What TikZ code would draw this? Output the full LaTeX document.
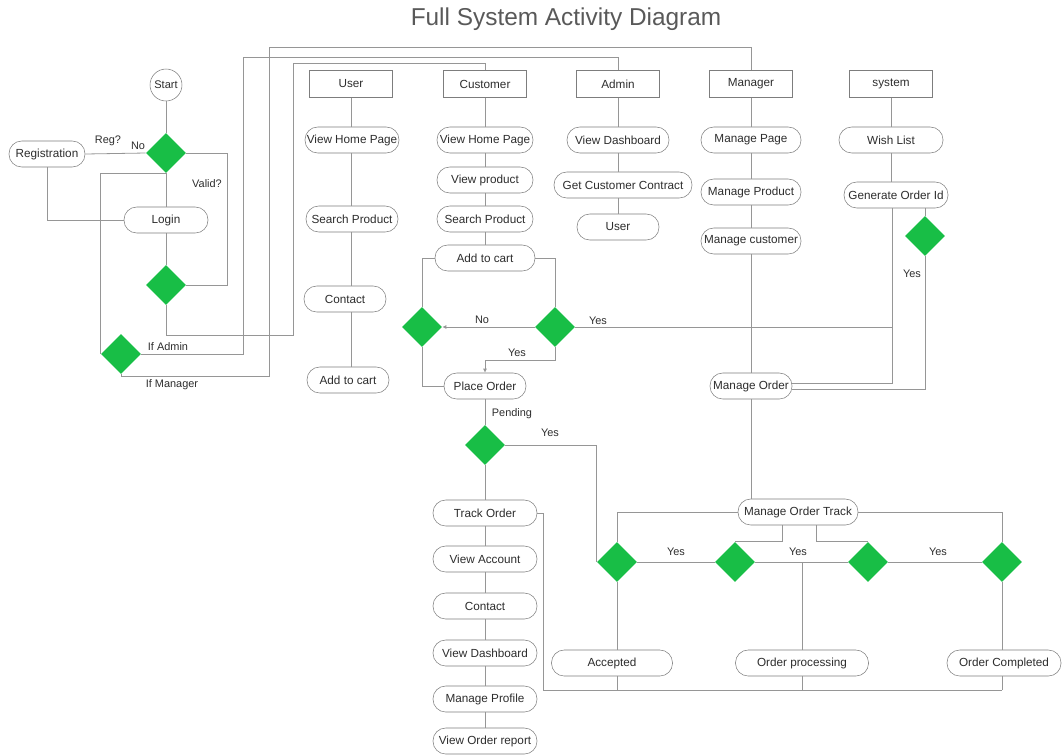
\documentclass[tikz,border=0pt]{standalone}
\usepackage{fontspec}
\setmainfont{Liberation Sans}
\usetikzlibrary{shapes.geometric, arrows.meta}
\definecolor{linegray}{RGB}{150,150,150}
\definecolor{boxgray}{RGB}{125,125,125}
\definecolor{txtgray}{RGB}{45,45,45}
\definecolor{decgreen}{RGB}{24,190,70}

\begin{document}
\begin{tikzpicture}[x=0.75pt, y=-0.75pt,
		act/.style={draw=boxgray, fill=white, rounded corners=9.5pt, minimum height=19.5pt, minimum width=#1*0.75pt, inner sep=1pt, text=txtgray, font=\fontsize{8.8}{10}\selectfont},
		act/.default=96,
		lane/.style={draw=boxgray, rectangle, minimum width=62.25pt, minimum height=20pt, text=txtgray, font=\fontsize{8.8}{10}\selectfont},
		ini/.style={draw=boxgray, circle, minimum size=24pt, inner sep=0pt, text=txtgray, font=\fontsize{8.3}{10}\selectfont},
		dec/.style={diamond, fill=decgreen, minimum size=30pt, inner sep=0pt},
		conn/.style={draw=linegray, line width=0.6pt},
		lbl/.style={text=txtgray, font=\fontsize{8.2}{9}\selectfont, inner sep=0pt},
		>={Latex[length=3pt,width=3pt]}]
	\useasboundingbox (0,0) rectangle (1063,754);
	% Titel
	\node[text=black!65, font=\fontsize{18.3}{20}\selectfont] (title) at (566,19) {Full System Activity Diagram};
	% Anmeldung
	\node[ini] (start) at (166,85) {Start};
	\node[dec] (dReg) at (166,153) {};
	\node[act=76] (reg) at (47,154) {Registration};
	\node[act=84] (login) at (166,220) {Login};
	\node[dec] (dValid) at (166,285) {};
	\node[dec] (dRole) at (121,354) {};
	% Bahnen
	\node[lane] (hUser) at (351,84) {User};
	\node[lane] (hCust) at (485,84) {Customer};
	\node[lane] (hAdmin) at (618,84) {Admin};
	\node[lane] (hMgr) at (751,84) {Manager};
	\node[lane] (hSys) at (891,84) {system};
	% User
	\node[act=94] (uHome) at (352,140) {View Home Page};
	\node[act=92] (uSearch) at (352,219) {Search Product};
	\node[act=82] (uContact) at (345,299) {Contact};
	\node[act=82] (uCart) at (348,380) {Add to cart};
	% Customer
	\node[act] (cHome) at (485,140) {View Home Page};
	\node[act] (cProd) at (485,180) {View product};
	\node[act] (cSearch) at (485,219) {Search Product};
	\node[act=100] (cCart) at (485,258) {Add to cart};
	\node[dec] (dNo) at (422,327) {};
	\node[dec] (dYes) at (555,327) {};
	\node[act=82] (place) at (485,386) {Place Order};
	\node[dec] (dPend) at (485,445) {};
	\node[act=104] (track) at (485,513) {Track Order};
	\node[act=104] (vAcct) at (485,559) {View Account};
	\node[act=104] (cContact) at (485,606) {Contact};
	\node[act=104] (vDash) at (485,653) {View Dashboard};
	\node[act=104] (mProf) at (485,699) {Manage Profile};
	\node[act=104] (vReport) at (485,741) {View Order report};
	% Admin
	\node[act=102] (aDash) at (618,140) {View Dashboard};
	\node[act=138] (aContract) at (623,185) {Get Customer Contract};
	\node[act=82] (aUser) at (618,227) {User};
	% Manager
	\node[act=100] (mPage) at (751,140) {Manage Page};
	\node[act=100] (mProd) at (751,192) {Manage Product};
	\node[act=100] (mCust) at (751,241) {Manage customer};
	\node[act=82] (mOrder) at (751,386) {Manage Order};
	\node[act=120] (mTrack) at (798,512) {Manage Order Track};
	\node[dec] (dAcc) at (617,562) {};
	\node[dec] (dProc) at (735,562) {};
	\node[dec] (dShip) at (868,562) {};
	\node[dec] (dDone) at (1002,562) {};
	\node[act=121] (accepted) at (612,663) {Accepted};
	\node[act=133] (oproc) at (802,663) {Order processing};
	\node[act=114] (compl) at (1004,663) {Order Completed};
	% system
	\node[act=104] (wish) at (891,140) {Wish List};
	\node[act=104] (gOrder) at (896,195) {Generate Order Id};
	\node[dec] (dSys) at (925,236) {};
	\coordinate (gL) at (892,208);
	\coordinate (botR) at (1002,690);
	% Verbindungen Anmeldung
	\draw[conn] (start) -- (dReg);
	\draw[conn] (dReg.west) -- (reg.east);
	\draw[conn] (dReg.south) -- (login.north);
	\draw[conn] (dReg.east) -- ++(41,0) |- (dValid.east);
	\draw[conn] (reg.south) |- (login.west);
	\draw[conn] (login) -- (dValid);
	\draw[conn] (dReg.south) -| (dRole.west);
	\draw[conn] (dValid.south) |- (293,335) -- (293,63) -| (hCust.north);
	\draw[conn] (dRole.east) -| (243,57) -| (hAdmin.north);
	\draw[conn] (dRole.south) |- (269,376) -- (269,47) -| (hMgr.north);
	% Verbindungen User
	\draw[conn] (hUser.south) -- (hUser.south |- uHome.north);
	\draw[conn] (hUser.south |- uHome.south) -- (hUser.south |- uSearch.north);
	\draw[conn] (hUser.south |- uSearch.south) -- (hUser.south |- uContact.north);
	\draw[conn] (hUser.south |- uContact.south) -- (hUser.south |- uCart.north);
	% Verbindungen Customer
	\draw[conn] (hCust) -- (cHome) -- (cProd) -- (cSearch) -- (cCart);
	\draw[conn] (cCart.west) -| (dNo.north);
	\draw[conn] (cCart.east) -| (dYes.north);
	\draw[conn, ->] (dYes.west) -- (dNo.east);
	\draw[conn] (dYes.east) -- (gL |- dYes.east);
	\draw[conn, ->] (dYes.south) -- ++(0,13) -| (place.north);
	\draw[conn] (dNo.south) |- (place.west);
	\draw[conn] (place) -- (dPend);
	\draw[conn] (dPend.east) -| (dAcc.west);
	\draw[conn] (dPend) -- (track) -- (vAcct) -- (cContact) -- (vDash) -- (mProf) -- (vReport);
	\draw[conn] (track.east) -- ++(6,0) |- (botR);
	% Verbindungen Admin
	\draw[conn] (hAdmin) -- (aDash);
	\draw[conn] (aDash.south) -- (aDash.south |- aContract.north);
	\draw[conn] (aDash.south |- aContract.south) -- (aUser.north);
	% Verbindungen Manager
	\draw[conn] (hMgr) -- (mPage) -- (mProd) -- (mCust) -- (mOrder);
	\draw[conn] (mOrder.south) -- (mOrder.south |- mTrack.north);
	\draw[conn] (mTrack.west) -| (dAcc.north);
	\draw[conn] ([xshift=-12pt]mTrack.south) |- (dProc.north);
	\draw[conn] ([xshift=13.5pt]mTrack.south) |- (dShip.north);
	\draw[conn] (mTrack.east) -| (dDone.north);
	\draw[conn] (dAcc) -- (dProc);
	\draw[conn] (dProc) -- (dShip);
	\draw[conn] (dShip) -- (dDone);
	\draw[conn] (oproc.north) -- (oproc.north |- dProc);
	\draw[conn] (dAcc.south) -- (dAcc.south |- accepted.north);
	\draw[conn] (dDone) -- (dDone.south |- compl.north);
	\draw[conn] (dAcc.south |- accepted.south) -- (dAcc.south |- botR);
	\draw[conn] (oproc.south) -- (oproc.south |- botR);
	\draw[conn] (dDone.south |- compl.south) -- (botR);
	% Verbindungen system
	\draw[conn] (hSys) -- (wish);
	\draw[conn] (wish.south) -- (wish.south |- gOrder.north);
	\draw[conn] (gL) |- ([yshift=2.25pt]mOrder.east);
	\draw[conn] (dSys.north |- gOrder.south) -- (dSys.north);
	\draw[conn] (dSys.south) |- ([yshift=-2.25pt]mOrder.east);
	% Beschriftung
	\node[lbl] (lReg) at (108,141) {Reg?};
	\node[lbl] (lRegNo) at (138,146) {No};
	\node[lbl] (lValid) at (207,184) {Valid?};
	\node[lbl] (lAdmin) at (168,347) {If Admin};
	\node[lbl] (lMgr) at (172,385) {If Manager};
	\node[lbl] (lCartNo) at (482,320) {No};
	\node[lbl] (lCartYes) at (598,321) {Yes};
	\node[lbl] (lPlaceYes) at (517,353) {Yes};
	\node[lbl] (lPend) at (512,414) {Pending};
	\node[lbl] (lPendYes) at (550,433) {Yes};
	\node[lbl] (lAccYes) at (676,552) {Yes};
	\node[lbl] (lProcYes) at (798,552) {Yes};
	\node[lbl] (lShipYes) at (938,552) {Yes};
	\node[lbl] (lSysYes) at (912,274) {Yes};
\end{tikzpicture}
\end{document}
